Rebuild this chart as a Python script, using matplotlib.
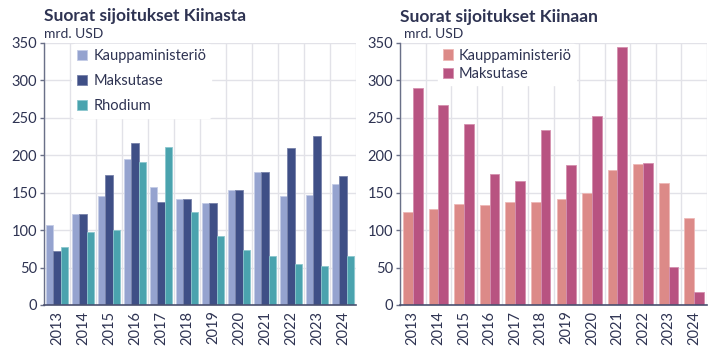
import matplotlib
matplotlib.use("Agg")
import matplotlib.pyplot as plt
import numpy as np

years = ["2013", "2014", "2015", "2016", "2017", "2018", "2019", "2020", "2021", "2022", "2023", "2024"]

# Suorat sijoitukset Kiinasta (outward)
out_kauppa = [107, 122, 145, 195, 158, 142, 136, 153, 178, 146, 147, 162]
out_maksu = [72, 122, 174, 216, 138, 142, 136, 153, 178, 210, 226, 172]
out_rhodium = [78, 97, 100, 191, 211, 124, 92, 74, 66, 55, 52, 65]

# Suorat sijoitukset Kiinaan (inward)
in_kauppa = [124, 128, 135, 133, 137, 138, 141, 149, 181, 188, 163, 116]
in_maksu = [290, 267, 242, 175, 166, 234, 187, 252, 344, 190, 51, 18]

yticks = [0, 50, 100, 150, 200, 250, 300, 350]

TXT = "#2E3352"
GRID = "#E2E2E8"
FONT = "Lato"

plt.rcParams["font.family"] = [FONT, "DejaVu Sans"]

fig = plt.figure(figsize=(7.15, 3.52), dpi=100)
axL = fig.add_axes([44 / 715, 47 / 352, 312 / 715, 262 / 352])
axR = fig.add_axes([400 / 715, 47 / 352, 307 / 715, 262 / 352])


def style(ax):
    ax.set_xlim(-0.5, len(years) - 0.5)
    ax.set_ylim(0, 350)
    ax.set_yticks(yticks)
    ax.set_yticklabels([str(v) for v in yticks], fontsize=10.5, color=TXT)
    ax.set_xticks(np.arange(len(years)))
    ax.set_xticklabels(years, rotation=90, fontsize=10.5, color=TXT)
    ax.tick_params(axis="x", length=0, pad=4)
    ax.tick_params(axis="y", length=3, width=1, color="#6A7088", pad=2)
    ax.set_xticks(np.arange(len(years) + 1) - 0.5, minor=True)
    ax.tick_params(axis="x", which="minor", length=0)
    ax.grid(axis="x", which="minor", color=GRID, linewidth=1)
    ax.grid(axis="y", which="major", color=GRID, linewidth=1)
    ax.set_axisbelow(True)
    for s in ["top", "right"]:
        ax.spines[s].set_visible(False)
    ax.spines["left"].set_color("#6A7088")
    ax.spines["bottom"].set_color("#4A5070")
    ax.spines["left"].set_linewidth(1)
    ax.spines["bottom"].set_linewidth(1.2)


x = np.arange(len(years))

# Left chart
w = 0.275
axL.bar(x - w, out_kauppa, w, color="#95A3CF", edgecolor="#C4CCE6", linewidth=0.6, label="Kauppaministeriö")
axL.bar(x, out_maksu, w, color="#3F4F86", edgecolor="#7782AA", linewidth=0.6, label="Maksutase")
axL.bar(x + w, out_rhodium, w, color="#4AA3AE", edgecolor="#8CC7CE", linewidth=0.6, label="Rhodium")
style(axL)
legL = axL.legend(loc="upper left", bbox_to_anchor=(0.09, 0.995), borderaxespad=0, frameon=True,
                  fontsize=10.5, handlelength=0.7, handleheight=0.7, handletextpad=0.4,
                  labelspacing=0.75, borderpad=0.35, labelcolor=TXT)
legL.get_frame().set_edgecolor("white")
legL.get_frame().set_facecolor("white")
legL.get_frame().set_alpha(1)

# Right chart
w2 = 0.38
axR.bar(x - w2 / 2, in_kauppa, w2, color="#DC8A88", edgecolor="#EDB8B6", linewidth=0.6, label="Kauppaministeriö")
axR.bar(x + w2 / 2, in_maksu, w2, color="#B85381", edgecolor="#D48FAE", linewidth=0.6, label="Maksutase")
style(axR)
legR = axR.legend(loc="upper left", bbox_to_anchor=(0.125, 0.995), borderaxespad=0, frameon=True,
                  fontsize=10.5, handlelength=0.7, handleheight=0.7, handletextpad=0.4,
                  labelspacing=0.3, borderpad=0.3, labelcolor=TXT)
legR.get_frame().set_edgecolor("white")
legR.get_frame().set_facecolor("white")
legR.get_frame().set_alpha(1)

# Titles
fig.text(44 / 715, 1 - 16 / 352, "Suorat sijoitukset Kiinasta", fontsize=12.5, fontweight="bold",
         color=TXT, ha="left", va="center")
fig.text(44 / 715, 1 - 34 / 352, "mrd. USD", fontsize=10, color=TXT, ha="left", va="center")
fig.text(400 / 715, 1 - 17 / 352, "Suorat sijoitukset Kiinaan", fontsize=12.5, fontweight="bold",
         color=TXT, ha="left", va="center")
fig.text(404 / 715, 1 - 34 / 352, "mrd. USD", fontsize=10, color=TXT, ha="left", va="center")

fig.savefig("out.png", dpi=100)
